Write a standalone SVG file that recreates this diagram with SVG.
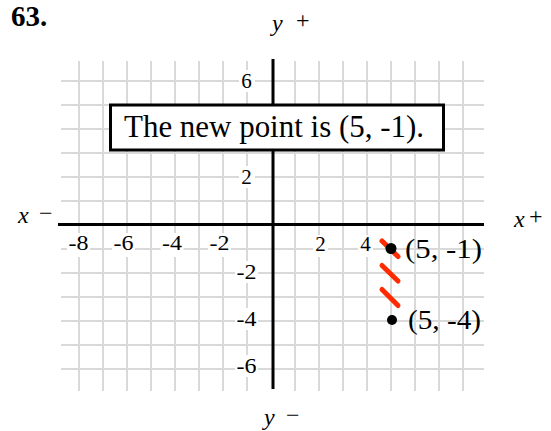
<svg xmlns="http://www.w3.org/2000/svg" width="551" height="431" viewBox="0 0 551 431">
<style>
.grid line{stroke:#d9d9d9;stroke-width:2}
.ax{stroke:#000;stroke-width:3}
.t{font-family:"Liberation Serif","Times New Roman",serif;fill:#000}
.lab{font-size:21px;text-anchor:middle}
.bg{fill:#fff}
.it{font-style:italic;font-size:24px}
.dash{stroke:#ff2a00;stroke-width:5;stroke-linecap:round}
</style>
<rect width="551" height="431" fill="#fff"/>
<text class="t" x="11" y="26" font-size="29" font-weight="bold">63.</text>
<g class="grid">
<line x1="79" y1="61" x2="79" y2="391"/><line x1="103" y1="61" x2="103" y2="391"/><line x1="127" y1="61" x2="127" y2="391"/><line x1="151" y1="61" x2="151" y2="391"/><line x1="175" y1="61" x2="175" y2="391"/><line x1="199" y1="61" x2="199" y2="391"/><line x1="223" y1="61" x2="223" y2="391"/><line x1="247" y1="61" x2="247" y2="391"/>
<line x1="295" y1="61" x2="295" y2="391"/><line x1="319" y1="61" x2="319" y2="391"/><line x1="343" y1="61" x2="343" y2="391"/><line x1="367" y1="61" x2="367" y2="391"/><line x1="391" y1="61" x2="391" y2="391"/><line x1="415" y1="61" x2="415" y2="391"/><line x1="439" y1="61" x2="439" y2="391"/><line x1="463" y1="61" x2="463" y2="391"/>
<line x1="61" y1="81" x2="484" y2="81"/><line x1="61" y1="105" x2="484" y2="105"/><line x1="61" y1="129" x2="484" y2="129"/><line x1="61" y1="153" x2="484" y2="153"/><line x1="61" y1="177" x2="484" y2="177"/><line x1="61" y1="201" x2="484" y2="201"/>
<line x1="61" y1="249" x2="484" y2="249"/><line x1="61" y1="273" x2="484" y2="273"/><line x1="61" y1="297" x2="484" y2="297"/><line x1="61" y1="321" x2="484" y2="321"/><line x1="61" y1="345" x2="484" y2="345"/><line x1="61" y1="369" x2="484" y2="369"/>
</g>
<g id="axes">
<line class="ax" x1="58" y1="224.5" x2="484" y2="224.5"/>
<line class="ax" x1="273" y1="59" x2="273" y2="389"/>
</g>
<g id="tick-labels">
<rect class="bg" x="67" y="233" width="23" height="24"/><text class="t lab" x="78.5" y="250" textLength="20" lengthAdjust="spacingAndGlyphs">-8</text>
<rect class="bg" x="112" y="233" width="23" height="24"/><text class="t lab" x="123.5" y="250" textLength="20" lengthAdjust="spacingAndGlyphs">-6</text>
<rect class="bg" x="160.5" y="233" width="23" height="24"/><text class="t lab" x="172" y="250" textLength="20" lengthAdjust="spacingAndGlyphs">-4</text>
<rect class="bg" x="208" y="233" width="23" height="24"/><text class="t lab" x="219.5" y="250" textLength="20" lengthAdjust="spacingAndGlyphs">-2</text>
<rect class="bg" x="313" y="235" width="15" height="22"/><text class="t lab" x="320.5" y="251">2</text>
<rect class="bg" x="358" y="235" width="15" height="22"/><text class="t lab" x="365.5" y="251">4</text>
<rect class="bg" x="239" y="70" width="16" height="22"/><text class="t lab" x="246.5" y="88">6</text>
<rect class="bg" x="239" y="166" width="16" height="22"/><text class="t lab" x="246.5" y="184">2</text>
<rect class="bg" x="235" y="261" width="23" height="22"/><text class="t lab" x="246.5" y="279" textLength="20" lengthAdjust="spacingAndGlyphs">-2</text>
<rect class="bg" x="235" y="308" width="23" height="22"/><text class="t lab" x="246.5" y="326" textLength="20" lengthAdjust="spacingAndGlyphs">-4</text>
<rect class="bg" x="235" y="355" width="23" height="22"/><text class="t lab" x="246.5" y="373" textLength="20" lengthAdjust="spacingAndGlyphs">-6</text>
</g>
<g id="axis-names">
<text class="t it" x="18" y="223">x</text><text class="t" x="39" y="221" font-size="24">−</text>
<text class="t it" x="514" y="227">x</text><text class="t" x="529" y="224" font-size="24">+</text>
<text class="t it" x="272" y="31">y</text><text class="t" x="296" y="28" font-size="24">+</text>
<text class="t it" x="264" y="425">y</text><text class="t" x="286" y="423" font-size="24">−</text>
</g>
<g id="connectors">
<line class="dash" x1="382" y1="241" x2="398" y2="256.5"/>
<line class="dash" x1="382" y1="265.5" x2="398" y2="281"/>
<line class="dash" x1="382" y1="289.5" x2="398" y2="305.5"/>
</g>
<g id="point-a">
<circle cx="391" cy="248.5" r="5.5"/>
<text class="t" x="405" y="258" font-size="27" textLength="77" lengthAdjust="spacingAndGlyphs">(5, -1)</text>
</g>
<g id="point-b">
<circle cx="392" cy="320" r="5"/>
<text class="t" x="408" y="329" font-size="27" textLength="73" lengthAdjust="spacingAndGlyphs">(5, -4)</text>
</g>
<g id="message">
<rect x="110.5" y="105" width="333" height="45" fill="#fff" stroke="#000" stroke-width="3"/>
<text class="t" x="124" y="137" font-size="32" textLength="300" lengthAdjust="spacingAndGlyphs">The new point is (5, -1).</text>
</g>
</svg>
